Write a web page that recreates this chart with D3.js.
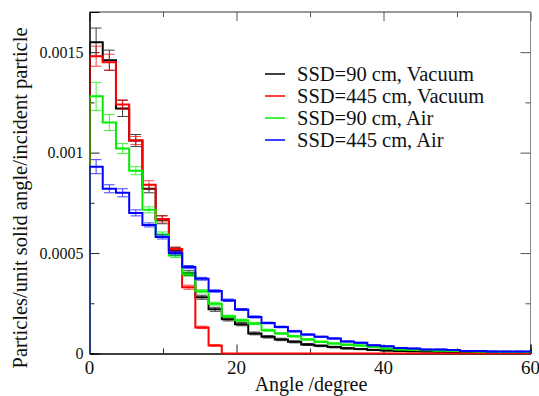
<!DOCTYPE html>
<html><head><meta charset="utf-8">
<script src="https://cdn.jsdelivr.net/npm/d3@7"></script>
<style>body{margin:0;background:#fff}
#c text{font-family:"Liberation Serif","Times New Roman",Tinos,Times !important}</style>
</head><body><svg id="c" width="539" height="396"></svg>
<script>
// ---- data ----
const binWidthDeg = 1.8;
const seriesNames = ["SSD=90 cm, Vacuum","SSD=445 cm, Vacuum","SSD=90 cm, Air","SSD=445 cm, Air"];
const seriesColors = ["#000000","#ff0000","#00ee00","#0000ff"];
const vac90 = [0.00155,0.00146,0.00122,0.00106,0.00082,0.000666,0.000513,0.0004,0.00028,0.00022,0.00017,0.000146,0.0001,0.000083,0.00007,0.000058,0.000045,0.000038,0.000032,0.000026,0.000022,0.000018,0.000015,0.000013,0.000011,0.00001,0.000009,0.000008,0.000007,0.000006,0.000005,0.000005,0.000004,0.000004];
const vac90Err = [0.00007,0.00005,0.00004,0.00003,0.00002,0.00002,0.000015,0.000012,0.00001,0.00001,0.000008,0.000008,0.000007,0.000006,0.000006,0.000005,0.000005,0.000004,0.000004,0.000004,0.000003,0.000003,0.000003,0.000003,0.000002,0.000002,0.000002,0.000002,0.000002,0.000002,0.000002,0.000002,0.000002,0.000002];
const vac445 = [0.00148,0.00145,0.00124,0.00106,0.00084,0.00067,0.00052,0.00033,0.00013,0.00004,0,0,0,0,0,0,0,0,0,0,0,0,0,0,0,0,0,0,0,0,0,0,0,0];
const vac445Err = [0.00005,0.00004,0.000023,0.00002,0.00002,0.000015,0.00001,0.00001,0.000006,0.000004,0,0,0,0,0,0,0,0,0,0,0,0,0,0,0,0,0,0,0,0,0,0,0,0];
const air90 = [0.00128,0.00115,0.00102,0.00091,0.000715,0.000593,0.000488,0.000395,0.00031,0.000248,0.000185,0.000165,0.000149,0.000116,0.0001,0.000086,0.00007,0.000058,0.00005,0.000044,0.00004,0.000033,0.000025,0.00002,0.000018,0.000016,0.000014,0.000013,0.000011,0.00001,0.000009,0.000008,0.000007,0.000007];
const air90Err = [0.00007,0.00004,0.000025,0.00002,0.000015,0.000012,0.00001,0.00001,0.000008,0.000007,0.000006,0.000006,0.000005,0.000005,0.000004,0.000004,0.000004,0.000003,0.000003,0.000003,0.000003,0.000003,0.000002,0.000002,0.000002,0.000002,0.000002,0.000002,0.000002,0.000002,0.000002,0.000002,0.000002,0.000002];
const air445 = [0.00093,0.00082,0.0008,0.0007,0.00064,0.00058,0.0005,0.00043,0.000372,0.000311,0.000265,0.000219,0.000182,0.000152,0.000132,0.000111,0.000094,0.000083,0.000075,0.00006,0.000053,0.000041,0.000036,0.000028,0.000025,0.00002,0.00002,0.000017,0.000013,0.000013,0.00001,0.00001,0.00001,0.00001];
const air445Err = [0.000035,0.00002,0.00002,0.000015,0.00001,0.00001,0.000009,0.000008,0.000007,0.000006,0.000006,0.000005,0.000005,0.000004,0.000004,0.000004,0.000003,0.000003,0.000003,0.000003,0.000003,0.000002,0.000002,0.000002,0.000002,0.000002,0.000002,0.000002,0.000002,0.000002,0.000002,0.000002,0.000002,0.000002];
const xTicks = [0,20,40,60];
const xMinorTicks = [10,30,50];
const yTicks = [0,0.0005,0.001,0.0015];
const yTickLabels = ["0","0.0005","0.001","0.0015"];
const yMinorTicks = [0.00025,0.00075,0.00125];
const xTitle = "Angle /degree";
const yTitle = "Particles/unit solid angle/incident particle";

const series = [vac90, vac445, air90, air445];
const errors = [vac90Err, vac445Err, air90Err, air445Err];

// ---- layout ----
const FONT = '"Liberation Serif", "Times New Roman", Tinos, Times';
const L = 89.5, R = 530.5, T = 12, B = 353.5;
const svg = d3.select("#c");
const x = d3.scaleLinear().domain([0,60]).range([L,R]);
const y = d3.scaleLinear().domain([0,0.0017]).range([B,T]);

svg.append("clipPath").attr("id","clip").append("rect")
  .attr("x",L).attr("y",T-2).attr("width",R-L).attr("height",B-T+3);

// frame
svg.append("line").attr("x1",L).attr("x2",R).attr("y1",T).attr("y2",T).attr("stroke","#333").attr("stroke-width",1);
svg.append("line").attr("x1",R).attr("x2",R).attr("y1",T).attr("y2",B).attr("stroke","#888").attr("stroke-width",1);

// ticks via d3 axes (inward)
function ax(gen, tr){ return svg.append("g").attr("transform",tr).call(gen); }
const axB = ax(d3.axisTop(x).tickValues(xTicks).tickSize(9).tickFormat(""), `translate(0,${B})`);
const axBm = ax(d3.axisTop(x).tickValues(xMinorTicks).tickSize(5).tickFormat(""), `translate(0,${B})`);
const axT = ax(d3.axisBottom(x).tickValues(xTicks).tickSize(9).tickFormat(""), `translate(0,${T})`);
const axTm = ax(d3.axisBottom(x).tickValues(xMinorTicks).tickSize(5).tickFormat(""), `translate(0,${T})`);
const axL = ax(d3.axisRight(y).tickValues(yTicks).tickSize(10).tickFormat(""), `translate(${L},0)`);
const axLm = ax(d3.axisRight(y).tickValues(yMinorTicks).tickSize(5).tickFormat(""), `translate(${L},0)`);
const axR = ax(d3.axisLeft(y).tickValues(yTicks).tickSize(10).tickFormat(""), `translate(${R},0)`);
const axRm = ax(d3.axisLeft(y).tickValues(yMinorTicks).tickSize(5).tickFormat(""), `translate(${R},0)`);
[axB,axBm,axT,axTm,axL,axLm,axR,axRm].forEach(g=>g.attr("font-family",null).attr("font-size",null).selectAll("text").remove());
[axT,axTm,axR,axRm].forEach(g=>{g.select(".domain").remove(); g.selectAll("line").attr("stroke","#555");});
[axB,axBm,axL,axLm].forEach(g=>{g.select(".domain").attr("stroke","#000"); g.selectAll("line").attr("stroke","#222");});

// texts
function txt(s, size){
  return svg.append("text").attr("font-size",size).attr("font-family",FONT)
    .style("font-family",FONT).attr("fill","#111").text(s);
}
xTicks.forEach(d=>{ txt(String(d),19).attr("x",x(d)).attr("y",B+20).attr("text-anchor","middle"); });
yTicks.forEach((d,i)=>{ txt(yTickLabels[i],16).attr("x",L-6).attr("y",y(d)+5.5).attr("text-anchor","end"); });
txt(xTitle,20).attr("x",(L+R)/2+1).attr("y",391).attr("text-anchor","middle");
txt(yTitle,20.5).attr("transform","translate(27,198) rotate(-90)").attr("text-anchor","middle");

// histograms
const plot = svg.append("g").attr("clip-path","url(#clip)");
series.forEach((vals,si)=>{
  const pts = [[0,0]];
  vals.forEach((v,i)=>{ pts.push([i*binWidthDeg, v]); pts.push([(i+1)*binWidthDeg, v]); });
  const line = d3.line().x(d=>x(d[0])).y(d=>y(d[1]));
  const g = plot.append("g").attr("stroke",seriesColors[si]).attr("stroke-width",1).attr("opacity",0.75);
  vals.forEach((v,i)=>{
    const e = errors[si][i];
    if(!(v>0)) return;
    const xc = (i+0.5)*binWidthDeg, hw = 0.4*binWidthDeg;
    g.append("line").attr("x1",x(xc)).attr("x2",x(xc)).attr("y1",y(v-e)).attr("y2",y(v+e));
    g.append("line").attr("x1",x(xc-hw)).attr("x2",x(xc+hw)).attr("y1",y(v-e)).attr("y2",y(v-e));
    g.append("line").attr("x1",x(xc-hw)).attr("x2",x(xc+hw)).attr("y1",y(v+e)).attr("y2",y(v+e));
  });
  plot.append("path").datum(pts).attr("d",line).attr("fill","none")
    .attr("stroke",seriesColors[si]).attr("stroke-width",2);
});

// legend
seriesNames.forEach((n,i)=>{
  const yy = 74 + i*22;
  svg.append("line").attr("x1",265).attr("x2",285).attr("y1",yy).attr("y2",yy)
    .attr("stroke",seriesColors[i]).attr("stroke-width",1.5);
  txt(n,20.5).attr("x",297).attr("y",yy+7);
});
</script></body></html>
